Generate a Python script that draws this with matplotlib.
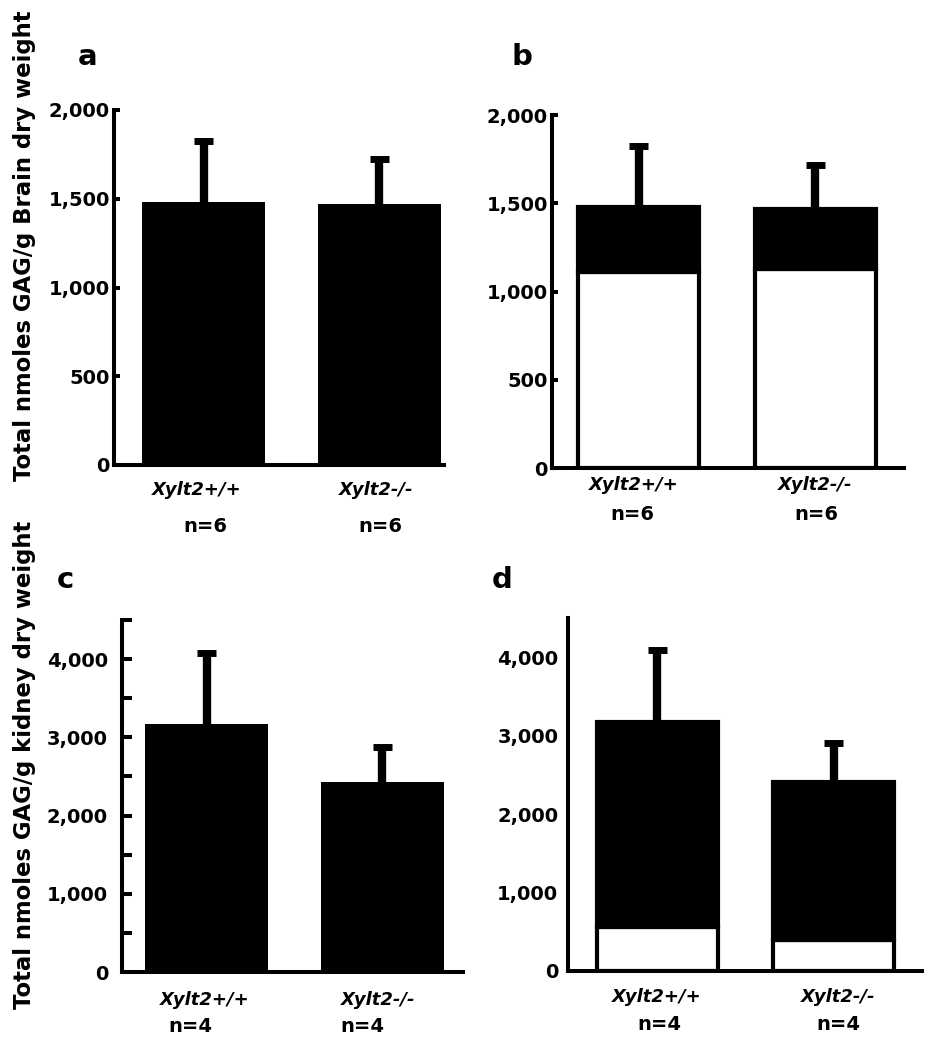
import matplotlib
matplotlib.use("Agg")
import matplotlib.pyplot as plt
from matplotlib.ticker import MultipleLocator, FuncFormatter

# ---------------------- Data ---------------------- #
groups = ["Xylt2+/+", "Xylt2-/-"]

# brain (n=6)
brain_n = ["n=6", "n=6"]
a_mean = [1482, 1470]
a_err = [345, 256]
b_total = [1479, 1467]
b_white = [1110, 1130]
b_err = [347, 251]

# kidney (n=4)
kidney_n = ["n=4", "n=4"]
c_mean = [3165, 2423]
c_err = [918, 455]
d_total = [3169, 2415]
d_white = [562, 396]
d_err = [924, 492]

W, H = 932, 1050
LW = 2.9

fig = plt.figure(figsize=(W / 100, H / 100), dpi=100)
fmt = FuncFormatter(lambda v, p: f"{int(v):,}")


def make_axes(left, right, y0, ytop, ymax, centers, xpad):
    # axes placed in pixel coordinates of the figure
    ax = fig.add_axes([left / W, 1 - y0 / H, (right - left) / W, (y0 - ytop) / H])
    sp = centers[1] - centers[0]
    ax.set_xlim(-(centers[0] - left) / sp, 1 + (right - centers[1]) / sp)
    ax.set_ylim(0, ymax)
    for s in ["top", "right"]:
        ax.spines[s].set_visible(False)
    for s in ["left", "bottom"]:
        ax.spines[s].set_linewidth(LW)
        ax.spines[s].set_capstyle("projecting")
    ax.tick_params(axis="x", length=0, pad=0)
    ax.tick_params(axis="y", direction="in", width=LW, pad=xpad)
    ax.yaxis.set_major_formatter(fmt)
    ax.set_xticks([0, 1])
    ax.set_xticklabels([])
    return ax, sp


def labels_below(ax, nlabels, dy1, dy2, dx1, dx2):
    for lab in ax.get_yticklabels():
        lab.set_fontweight("bold")
    for i in range(2):
        ax.annotate(groups[i], xy=(i, 0), xycoords=("data", "axes fraction"),
                    xytext=(dx1[i], -dy1), textcoords="offset pixels",
                    ha="center", va="center", fontsize=13, fontweight="bold",
                    fontstyle="italic")
        ax.annotate(nlabels[i], xy=(i, 0), xycoords=("data", "axes fraction"),
                    xytext=(dx2[i], -dy2), textcoords="offset pixels",
                    ha="center", va="center", fontsize=14, fontweight="bold")


def err(ax, sp, vals, errs):
    # upper-only error bars: stem plus cap
    tops = [v + e for v, e in zip(vals, errs)]
    ax.vlines([0, 1], vals, tops, colors="black", linewidth=6, zorder=1)
    hw = 9.5 / sp
    ax.hlines(tops, [-hw, 1 - hw], [hw, 1 + hw], colors="black", linewidth=5, zorder=1)


# ---- panel a ----
ax, sp = make_axes(114, 444, 465, 110, 2000, (203.5, 379), 3)
ax.yaxis.set_major_locator(MultipleLocator(500))
ax.tick_params(axis="y", length=4, labelsize=14)
err(ax, sp, a_mean, a_err)
ax.bar([0, 1], a_mean, width=123 / sp, color="black", zorder=2)
labels_below(ax, brain_n, 25, 62, (-7, -3), (2, 1))

# ---- panel b ----
ax, sp = make_axes(552, 904, 468, 115, 2000, (638.5, 815), 3)
ax.yaxis.set_major_locator(MultipleLocator(500))
ax.tick_params(axis="y", length=4, labelsize=14)
err(ax, sp, b_total, b_err)
ax.bar([0, 1], b_white, width=121 / sp, color="white", edgecolor="black", linewidth=3, zorder=2)
ax.bar([0, 1], [t - v for t, v in zip(b_total, b_white)], bottom=b_white, width=121 / sp,
       color="black", edgecolor="black", linewidth=3, zorder=2)
labels_below(ax, brain_n, 17, 47, (-5, 0), (-6, 1))

# ---- panel c ----
ax, sp = make_axes(122, 463, 972, 620, 4500, (206.5, 382), 10)
ax.yaxis.set_major_locator(MultipleLocator(1000))
ax.yaxis.set_minor_locator(MultipleLocator(500))
ax.tick_params(axis="y", which="both", direction="in", length=7, width=LW, labelsize=14)
err(ax, sp, c_mean, c_err)
ax.bar([0, 1], c_mean, width=123 / sp, color="black", zorder=2)
labels_below(ax, kidney_n, 28, 54, (-2, -4), (-16, -20))

# ---- panel d ----
ax, sp = make_axes(568, 922, 971, 618, 4500, (657, 833.5), 7)
ax.yaxis.set_major_locator(MultipleLocator(1000))
ax.tick_params(axis="y", length=0, labelsize=14)
err(ax, sp, d_total, d_err)
ax.bar([0, 1], d_white, width=121 / sp, color="white", edgecolor="black", linewidth=3, zorder=2)
ax.bar([0, 1], [t - v for t, v in zip(d_total, d_white)], bottom=d_white, width=121 / sp,
       color="black", edgecolor="black", linewidth=3, zorder=2)
labels_below(ax, kidney_n, 26, 54, (0, 5), (2, 5))

# ---- panel letters and y labels ----
for letter, x, y in [("a", 88, 57), ("b", 522, 57), ("c", 65, 580), ("d", 502, 580)]:
    fig.text(x / W, 1 - y / H, letter, fontsize=21, fontweight="bold", ha="center", va="center")

fig.text(25 / W, 1 - 246 / H, "Total nmoles GAG/g Brain dry weight", rotation=90,
         fontsize=16.4, fontweight="bold", ha="center", va="center")
fig.text(25 / W, 1 - 765 / H, "Total nmoles GAG/g kidney dry weight", rotation=90,
         fontsize=16.4, fontweight="bold", ha="center", va="center")

fig.savefig("out.png", dpi=100, facecolor="white")
